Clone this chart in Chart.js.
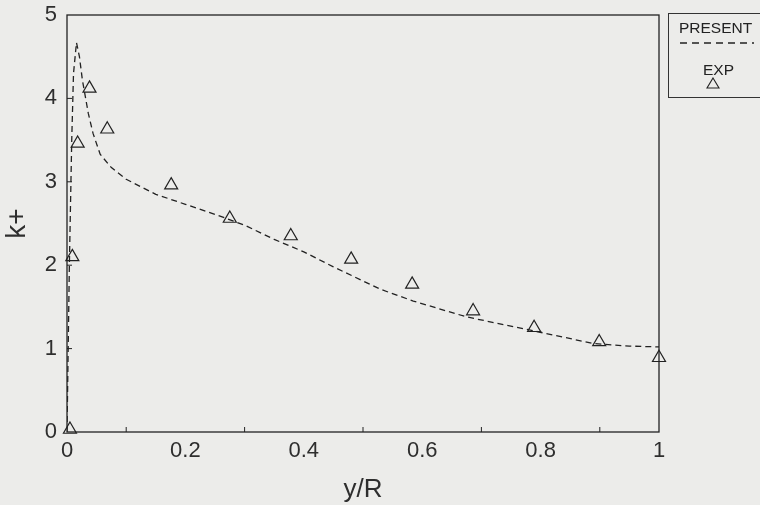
<!DOCTYPE html>
<html lang="en">
<head>
<meta charset="UTF-8">
<title>k+ vs y/R</title>
<style>
  body {
    margin: 0;
    background: #ececea;
    overflow: hidden;
    font-family: "Liberation Sans", Arial, sans-serif;
  }
  #wrap {
    position: relative;
    width: 760px;
    height: 505px;
  }
  #legend-box {
    position: absolute;
    left: 668px;
    top: 13px;
    width: 100px;
    height: 83px;
    border: 1px solid #333;
    color: #222;
    font-size: 15.5px;
  }
  #legend-box .lbl {
    position: absolute;
    line-height: 18px;
  }
</style>
<script src="https://cdn.jsdelivr.net/npm/chart.js"></script>
</head>
<body>
<div id="wrap">
  <canvas id="kChart" width="760" height="505"></canvas>
  <!-- legend drawn by hand, like the original figure -->
  <div id="legend-box">
    <span class="lbl" style="left:10px; top:5px;">PRESENT</span>
    <svg style="position:absolute; left:11px; top:27px;" width="74" height="4">
      <line x1="0" y1="2" x2="74" y2="2" stroke="#222" stroke-width="1.3" stroke-dasharray="7,5"/>
    </svg>
    <span class="lbl" style="left:34px; top:47px;">EXP</span>
    <svg style="position:absolute; left:37px; top:63px;" width="14" height="12">
      <polygon points="7,1 13,11 1,11" fill="none" stroke="#222" stroke-width="1.1"/>
    </svg>
  </div>
</div>

<script>
// PRESENT model curve (dashed)
const presentX = [0, 0.004, 0.008, 0.011, 0.016, 0.021, 0.026, 0.03, 0.036, 0.044, 0.056, 0.075,
                  0.1, 0.15, 0.2, 0.25, 0.3, 0.35, 0.4, 0.45, 0.53, 0.585, 0.675, 0.79, 0.89, 0.95, 1.0];
const presentK = [0, 2.0, 3.5, 4.3, 4.67, 4.5, 4.22, 4.06, 3.82, 3.58, 3.33, 3.17,
                  3.03, 2.85, 2.73, 2.61, 2.48, 2.31, 2.16, 1.98, 1.71, 1.57, 1.38, 1.21, 1.06, 1.03, 1.02];

// experimental points (triangles)
const expX = [0.005, 0.009, 0.018, 0.038, 0.068, 0.176, 0.275, 0.378, 0.48, 0.583, 0.686, 0.789, 0.899, 1.0];
const expK = [0.03, 2.10, 3.46, 4.12, 3.63, 2.96, 2.56, 2.35, 2.07, 1.77, 1.45, 1.25, 1.08, 0.89];

const xTickValues = [0, 0.2, 0.4, 0.6, 0.8, 1];
const xMinorTicks = [0.1, 0.3, 0.5, 0.7, 0.9];
const yMinorTicks = [1, 2, 3, 4];

const ink = '#222';
const textInk = '#2e2e2e';
const tickFont = { family: '"Liberation Sans", Arial, sans-serif', size: 22 };

const presentPts = presentX.map((x, i) => ({ x: x, y: presentK[i] }));
const expPts = expX.map((x, i) => ({ x: x, y: expK[i] }));

// paper background + frame with small inward ticks
const framePlugin = {
  id: 'frame',
  beforeDraw(chart) {
    const ctx = chart.ctx;
    ctx.save();
    ctx.fillStyle = '#ececea';
    ctx.fillRect(0, 0, chart.width, chart.height);
    ctx.restore();
  },
  afterDraw(chart) {
    const { ctx, chartArea: a } = chart;
    const xs = chart.scales.x, ys = chart.scales.y;
    ctx.save();
    ctx.strokeStyle = ink;
    ctx.lineWidth = 1.3;
    ctx.strokeRect(a.left, a.top, a.right - a.left, a.bottom - a.top);
    ctx.lineWidth = 1;
    ctx.beginPath();
    xMinorTicks.forEach(v => {
      const px = xs.getPixelForValue(v);
      ctx.moveTo(px, a.bottom);
      ctx.lineTo(px, a.bottom - 5);
    });
    yMinorTicks.forEach(v => {
      const py = ys.getPixelForValue(v);
      ctx.moveTo(a.left, py);
      ctx.lineTo(a.left + 5, py);
    });
    ctx.stroke();
    ctx.restore();
  }
};

const ctx = document.getElementById('kChart').getContext('2d');
new Chart(ctx, {
  type: 'scatter',
  data: {
    datasets: [
      {
        label: 'PRESENT',
        data: presentPts,
        showLine: true,
        borderColor: ink,
        borderWidth: 1.3,
        borderDash: [6, 4],
        pointRadius: 0,
        tension: 0
      },
      {
        label: 'EXP',
        data: expPts,
        pointStyle: 'triangle',
        pointRadius: 7.5,
        borderColor: ink,
        borderWidth: 1.2,
        backgroundColor: 'rgba(0,0,0,0)',
        clip: false
      }
    ]
  },
  options: {
    responsive: false,
    animation: false,
    devicePixelRatio: 1,
    layout: { padding: { top: 15, right: 101, left: 0, bottom: 0 } },
    plugins: {
      legend: { display: false },
      tooltip: { enabled: false }
    },
    scales: {
      x: {
        type: 'linear',
        min: 0,
        max: 1,
        afterFit(scale) {
          scale.height = 73;
          scale.paddingLeft = 0;
          scale.paddingRight = 0;
        },
        afterBuildTicks(scale) { scale.ticks = xTickValues.map(v => ({ value: v })); },
        grid: { display: false, drawTicks: false },
        border: { display: false },
        ticks: {
          padding: 6,
          color: textInk,
          font: tickFont,
          maxRotation: 0,
          autoSkip: false,
          callback: v => (v === 0 || v === 1) ? String(v) : v.toFixed(1)
        },
        title: {
          display: true,
          text: 'y/R',
          color: textInk,
          font: { family: '"Liberation Sans", Arial, sans-serif', size: 26 },
          padding: { top: 0, bottom: 0 }
        }
      },
      y: {
        type: 'linear',
        min: 0,
        max: 5,
        afterFit(scale) {
          scale.width = 67;
          scale.paddingTop = 0;
          scale.paddingBottom = 0;
        },
        grid: { display: false, drawTicks: false },
        border: { display: false },
        ticks: {
          stepSize: 1,
          padding: 10,
          color: textInk,
          font: tickFont
        },
        title: {
          display: true,
          text: 'k+',
          color: textInk,
          font: { family: '"Liberation Sans", Arial, sans-serif', size: 28 },
          padding: { top: 0, bottom: 0 }
        }
      }
    }
  },
  plugins: [framePlugin]
});
</script>
</body>
</html>
